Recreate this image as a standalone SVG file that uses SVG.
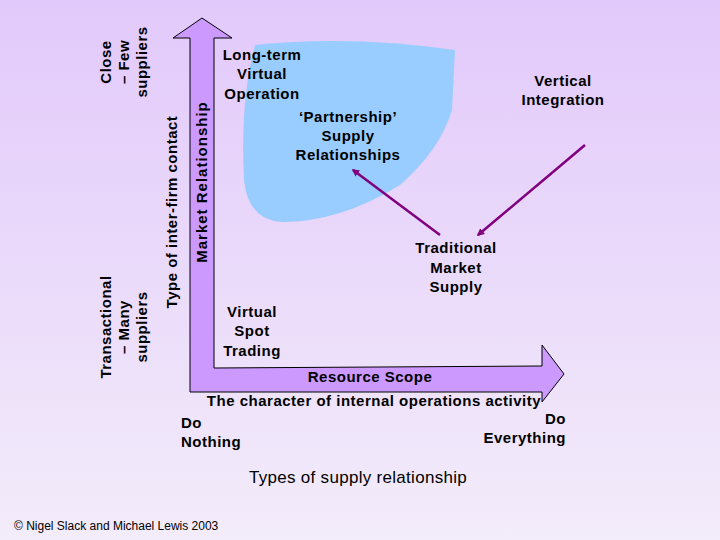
<svg xmlns="http://www.w3.org/2000/svg" width="720" height="540" viewBox="0 0 720 540">
<defs>
<linearGradient id="bg" x1="0" y1="0" x2="0" y2="1"><stop offset="0" stop-color="#e2c9fb"/><stop offset="1" stop-color="#f3ecfa"/></linearGradient>
<marker id="ah" viewBox="0 0 10 10" refX="8" refY="5" markerWidth="3" markerHeight="3" orient="auto"><path d="M0,0 L10,5 L0,10 Z" fill="#800080"/></marker>
<style>
text{font-family:"Liberation Sans",Arial,sans-serif;font-weight:bold;font-size:15px;fill:#000;text-anchor:middle;letter-spacing:0.5px}
.ln{stroke:#800080;stroke-width:2.5;fill:none;marker-end:url(#ah)}
</style>
</defs>
<rect width="720" height="540" fill="url(#bg)"/>
<path d="M255,45 Q350,35 455,50 L452,110 Q440,150 400,185 Q340,222 282,222 Q248,220 244,180 Q240,100 255,45 Z" fill="#99ccff"/>
<g id="axes">
<path d="M190,392 L190,38 L173,38 L202,18 L232,38 L214,38 L214,368 L542,366 L542,345 L564,374 L542,402 L542,392 Z" fill="#cc99ff" stroke="#000" stroke-width="1"/>
</g>
<g id="connectors">
<line class="ln" x1="440" y1="235" x2="353" y2="170"/>
<line class="ln" x1="585" y1="145" x2="478" y2="235"/>
</g>
<g id="labels">
<text transform="translate(111,62) rotate(-90)"><tspan x="0" y="0">Close</tspan><tspan x="0" y="18">– Few</tspan><tspan x="0" y="36">suppliers</tspan></text>
<text transform="translate(111,327) rotate(-90)"><tspan x="0" y="0">Transactional</tspan><tspan x="0" y="18">– Many</tspan><tspan x="0" y="36">suppliers</tspan></text>
<text transform="translate(177,212) rotate(-90)">Type of inter-firm contact</text>
<text transform="translate(207,182) rotate(-90)" style="letter-spacing:1px">Market Relationship</text>
<g id="n1"><text x="262" y="60">Long-term</text><text x="262" y="79">Virtual</text><text x="262" y="99">Operation</text></g>
<g id="n2"><text x="563" y="86">Vertical</text><text x="563" y="105">Integration</text></g>
<g id="n3"><text x="348" y="122">‘Partnership’</text><text x="348" y="141">Supply</text><text x="348" y="160">Relationships</text></g>
<g id="n4"><text x="456" y="253">Traditional</text><text x="456" y="273">Market</text><text x="456" y="292">Supply</text></g>
<g id="n5"><text x="252" y="317">Virtual</text><text x="252" y="336">Spot</text><text x="252" y="356">Trading</text></g>
<text x="370" y="382">Resource Scope</text>
<text x="374" y="406">The character of internal operations activity</text>
<text x="181" y="428" style="text-anchor:start">Do</text>
<text x="181" y="447" style="text-anchor:start">Nothing</text>
<text x="566" y="424" style="text-anchor:end">Do</text>
<text x="566" y="443" style="text-anchor:end">Everything</text>
<text x="358" y="483" style="font-weight:normal;font-size:17px;letter-spacing:0.3px">Types of supply relationship</text>
<text x="14" y="530" style="font-weight:normal;font-size:12px;text-anchor:start;letter-spacing:0">© Nigel Slack and Michael Lewis 2003</text>
</g>
</svg>
